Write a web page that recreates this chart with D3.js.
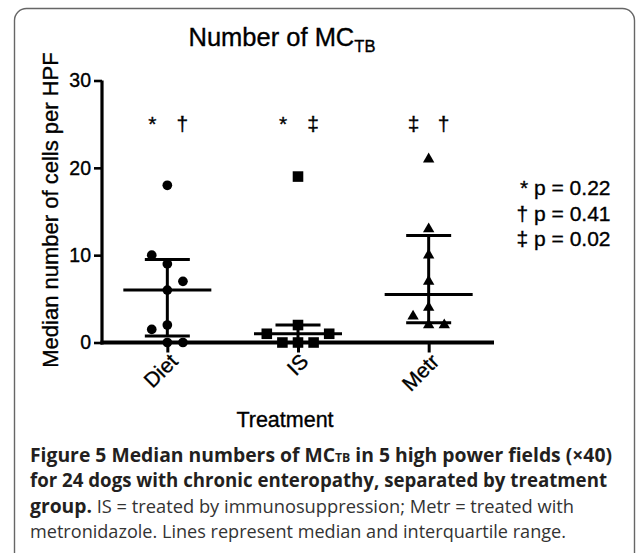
<!DOCTYPE html>
<html>
<head>
<meta charset="utf-8">
<script src="https://cdn.jsdelivr.net/npm/d3@7"></script>
<style>
  html, body { margin: 0; padding: 0; background: #fff; }
  svg { display: block; }
  .ct { stroke: #000; stroke-width: 0.35px; }
</style>
</head>
<body>
<svg id="chart" width="636" height="553"></svg>
<script>
// ---- data ----
const categories = ["Diet", "IS", "Metr"];
const dietValues = [18, 10, 9, 7, 6, 2, 1.5, 0, 0];
const isValues = [19, 2, 1, 1, 0, 0, 0];
const metrValues = [21, 13, 10, 7, 4, 3, 2, 2];
const yTicks = [0, 10, 20, 30];
const groupMarks = [["*", "†"], ["*", "‡"], ["‡", "†"]];
const pValueLabels = ["* p = 0.22", "† p = 0.41", "‡ p = 0.02"];
const chartTitle = "Number of MC";
const chartTitleSub = "TB";
const yTitle = "Median number of cells per HPF";
const xTitle = "Treatment";

const groups = [dietValues, isValues, metrValues];
const symbolTypes = [d3.symbolCircle, d3.symbolSquare, d3.symbolTriangle];
const symbolSizes = [74, 112, 56];

const svg = d3.select("#chart");
const font = "'Liberation Sans', Arial, Helvetica, sans-serif";
const capFont = "'Open Sans', 'Noto Sans', sans-serif";

// frame
svg.append("rect")
  .attr("x", 14.5).attr("y", 8.5).attr("width", 620).attr("height", 560)
  .attr("rx", 12).attr("ry", 12)
  .attr("fill", "none").attr("stroke", "#666").attr("stroke-width", 1.4);

const x = d3.scalePoint().domain(categories).range([102, 494]).padding(0.5);
const y = d3.scaleLinear().domain([0, 30]).range([342.5, 80.5]);

// Prism-style quantile ((n+1)p)
function quant(sorted, p) {
  const n = sorted.length;
  const pos = (n + 1) * p;
  const lo = Math.floor(pos), frac = pos - lo;
  if (lo < 1) return sorted[0];
  if (lo >= n) return sorted[n - 1];
  return sorted[lo - 1] + frac * (sorted[lo] - sorted[lo - 1]);
}

// column-scatter layout: spread points that overlap vertically
function layout(values) {
  const sorted = values.slice().sort((a, b) => a - b);
  const placed = [];
  let toggle = 1;
  const slotW = 15.6, minDy = 15;
  sorted.forEach(v => {
    const py = y(v);
    const hits = s => placed.some(p => p.slot === s && Math.abs(p.py - py) < minDy);
    let slot = 0;
    if (hits(0)) {
      for (let k = 1; k < 10; k++) {
        if (!hits(toggle * k)) { slot = toggle * k; break; }
        if (!hits(-toggle * k)) { slot = -toggle * k; break; }
      }
      toggle = slot > 0 ? -1 : 1;
    }
    placed.push({ v, py, slot, off: slot * slotW });
  });
  return placed;
}

const gLines = svg.append("g");
const gPts = svg.append("g");

groups.forEach((vals, i) => {
  const cx = x(categories[i]);
  const sorted = vals.slice().sort((a, b) => a - b);
  const q1 = quant(sorted, 0.25), med = quant(sorted, 0.5), q3 = quant(sorted, 0.75);

  layout(vals).forEach(p => {
    gPts.append("path")
      .attr("d", d3.symbol().type(symbolTypes[i]).size(symbolSizes[i])())
      .attr("transform", `translate(${cx + p.off},${p.py})`)
      .attr("fill", "#000");
  });

  gLines.append("line").attr("x1", cx).attr("x2", cx).attr("y1", y(q1)).attr("y2", y(q3))
    .attr("stroke", "#000").attr("stroke-width", 3);
  gLines.append("line").attr("x1", cx - 44).attr("x2", cx + 44).attr("y1", y(med)).attr("y2", y(med))
    .attr("stroke", "#000").attr("stroke-width", 3);
  [q1, q3].forEach(q => {
    gLines.append("line").attr("x1", cx - 22.5).attr("x2", cx + 22.5).attr("y1", y(q)).attr("y2", y(q))
      .attr("stroke", "#000").attr("stroke-width", 3);
  });

  groupMarks[i].forEach((m, j) => {
    svg.append("text").attr("class", "ct")
      .attr("x", cx + (j === 0 ? -15 : 15)).attr("y", 131)
      .attr("text-anchor", "middle")
      .attr("font-family", font).attr("font-size", 21)
      .text(m);
  });
});

// y axis
const yAxis = svg.append("g").attr("transform", "translate(102,0)")
  .call(d3.axisLeft(y).tickValues(yTicks).tickSize(8).tickPadding(3).tickFormat(d3.format("d")));
yAxis.select(".domain").attr("stroke", "#000").attr("stroke-width", 3.2)
  .attr("d", `M0,${y(30)}V${y(0) + 2}`);
yAxis.selectAll(".tick line").attr("stroke", "#000").attr("stroke-width", 2.6);
yAxis.selectAll(".tick text").attr("class", "ct").attr("font-family", font).attr("font-size", 19.5).attr("fill", "#000");

// x axis
const xAxis = svg.append("g").attr("transform", `translate(0,${y(0)})`)
  .call(d3.axisBottom(x).tickSize(10).tickPadding(4));
xAxis.select(".domain").attr("stroke", "#000").attr("stroke-width", 4)
  .attr("d", `M100.5,0H494`);
xAxis.selectAll(".tick line").attr("stroke", "#000").attr("stroke-width", 3);
xAxis.selectAll(".tick text").attr("class", "ct")
  .attr("font-family", font).attr("font-size", 21).attr("fill", "#000")
  .attr("text-anchor", "end")
  .attr("transform", "translate(6,15) rotate(-45)")
  .attr("dy", "0.35em").attr("y", 0).attr("x", 0);

// title
const t = svg.append("text").attr("class", "ct").attr("x", 188.5).attr("y", 46)
  .attr("font-family", font).attr("font-size", 25.5).attr("fill", "#000");
t.append("tspan").text(chartTitle);
t.append("tspan").attr("font-size", 16.5).attr("dy", 6).text(chartTitleSub);

// axis titles
svg.append("text").attr("class", "ct")
  .attr("transform", "translate(58,210) rotate(-90)")
  .attr("text-anchor", "middle")
  .attr("font-family", font).attr("font-size", 22).attr("fill", "#000")
  .text(yTitle);
svg.append("text").attr("class", "ct")
  .attr("x", 285).attr("y", 427).attr("text-anchor", "middle")
  .attr("font-family", font).attr("font-size", 21.5).attr("fill", "#000")
  .text(xTitle);

// p-values
pValueLabels.forEach((s, i) => {
  svg.append("text").attr("class", "ct")
    .attr("x", 610.5).attr("y", 195 + i * 25.5).attr("text-anchor", "end")
    .attr("font-family", font).attr("font-size", 21).attr("fill", "#000")
    .text(s);
});

// caption
const cap = svg.append("g").attr("font-family", capFont).attr("fill", "#231f20");
const l1 = cap.append("text").attr("x", 30).attr("y", 462).attr("font-size", 19).attr("font-weight", 700)
  .attr("textLength", 582).attr("lengthAdjust", "spacingAndGlyphs");
l1.append("tspan").text("Figure 5 Median numbers of MC");
l1.append("tspan").attr("font-size", 12).text("TB");
l1.append("tspan").text(" in 5 high power fields (×40)");
cap.append("text").attr("x", 30).attr("y", 487).attr("font-size", 19).attr("font-weight", 700)
  .attr("textLength", 577).attr("lengthAdjust", "spacingAndGlyphs")
  .text("for 24 dogs with chronic enteropathy, separated by treatment");
const l3 = cap.append("text").attr("x", 30).attr("y", 512.5)
  .attr("textLength", 544).attr("lengthAdjust", "spacingAndGlyphs");
l3.append("tspan").attr("font-weight", 700).attr("font-size", 19).text("group.");
l3.append("tspan").attr("font-weight", 400).attr("font-size", 18).attr("fill", "#333").text(" IS = treated by immunosuppression; Metr = treated with");
cap.append("text").attr("x", 30).attr("y", 538).attr("font-size", 18).attr("font-weight", 400).attr("fill", "#333")
  .attr("textLength", 536).attr("lengthAdjust", "spacingAndGlyphs")
  .text("metronidazole. Lines represent median and interquartile range.");
</script>
</body>
</html>
